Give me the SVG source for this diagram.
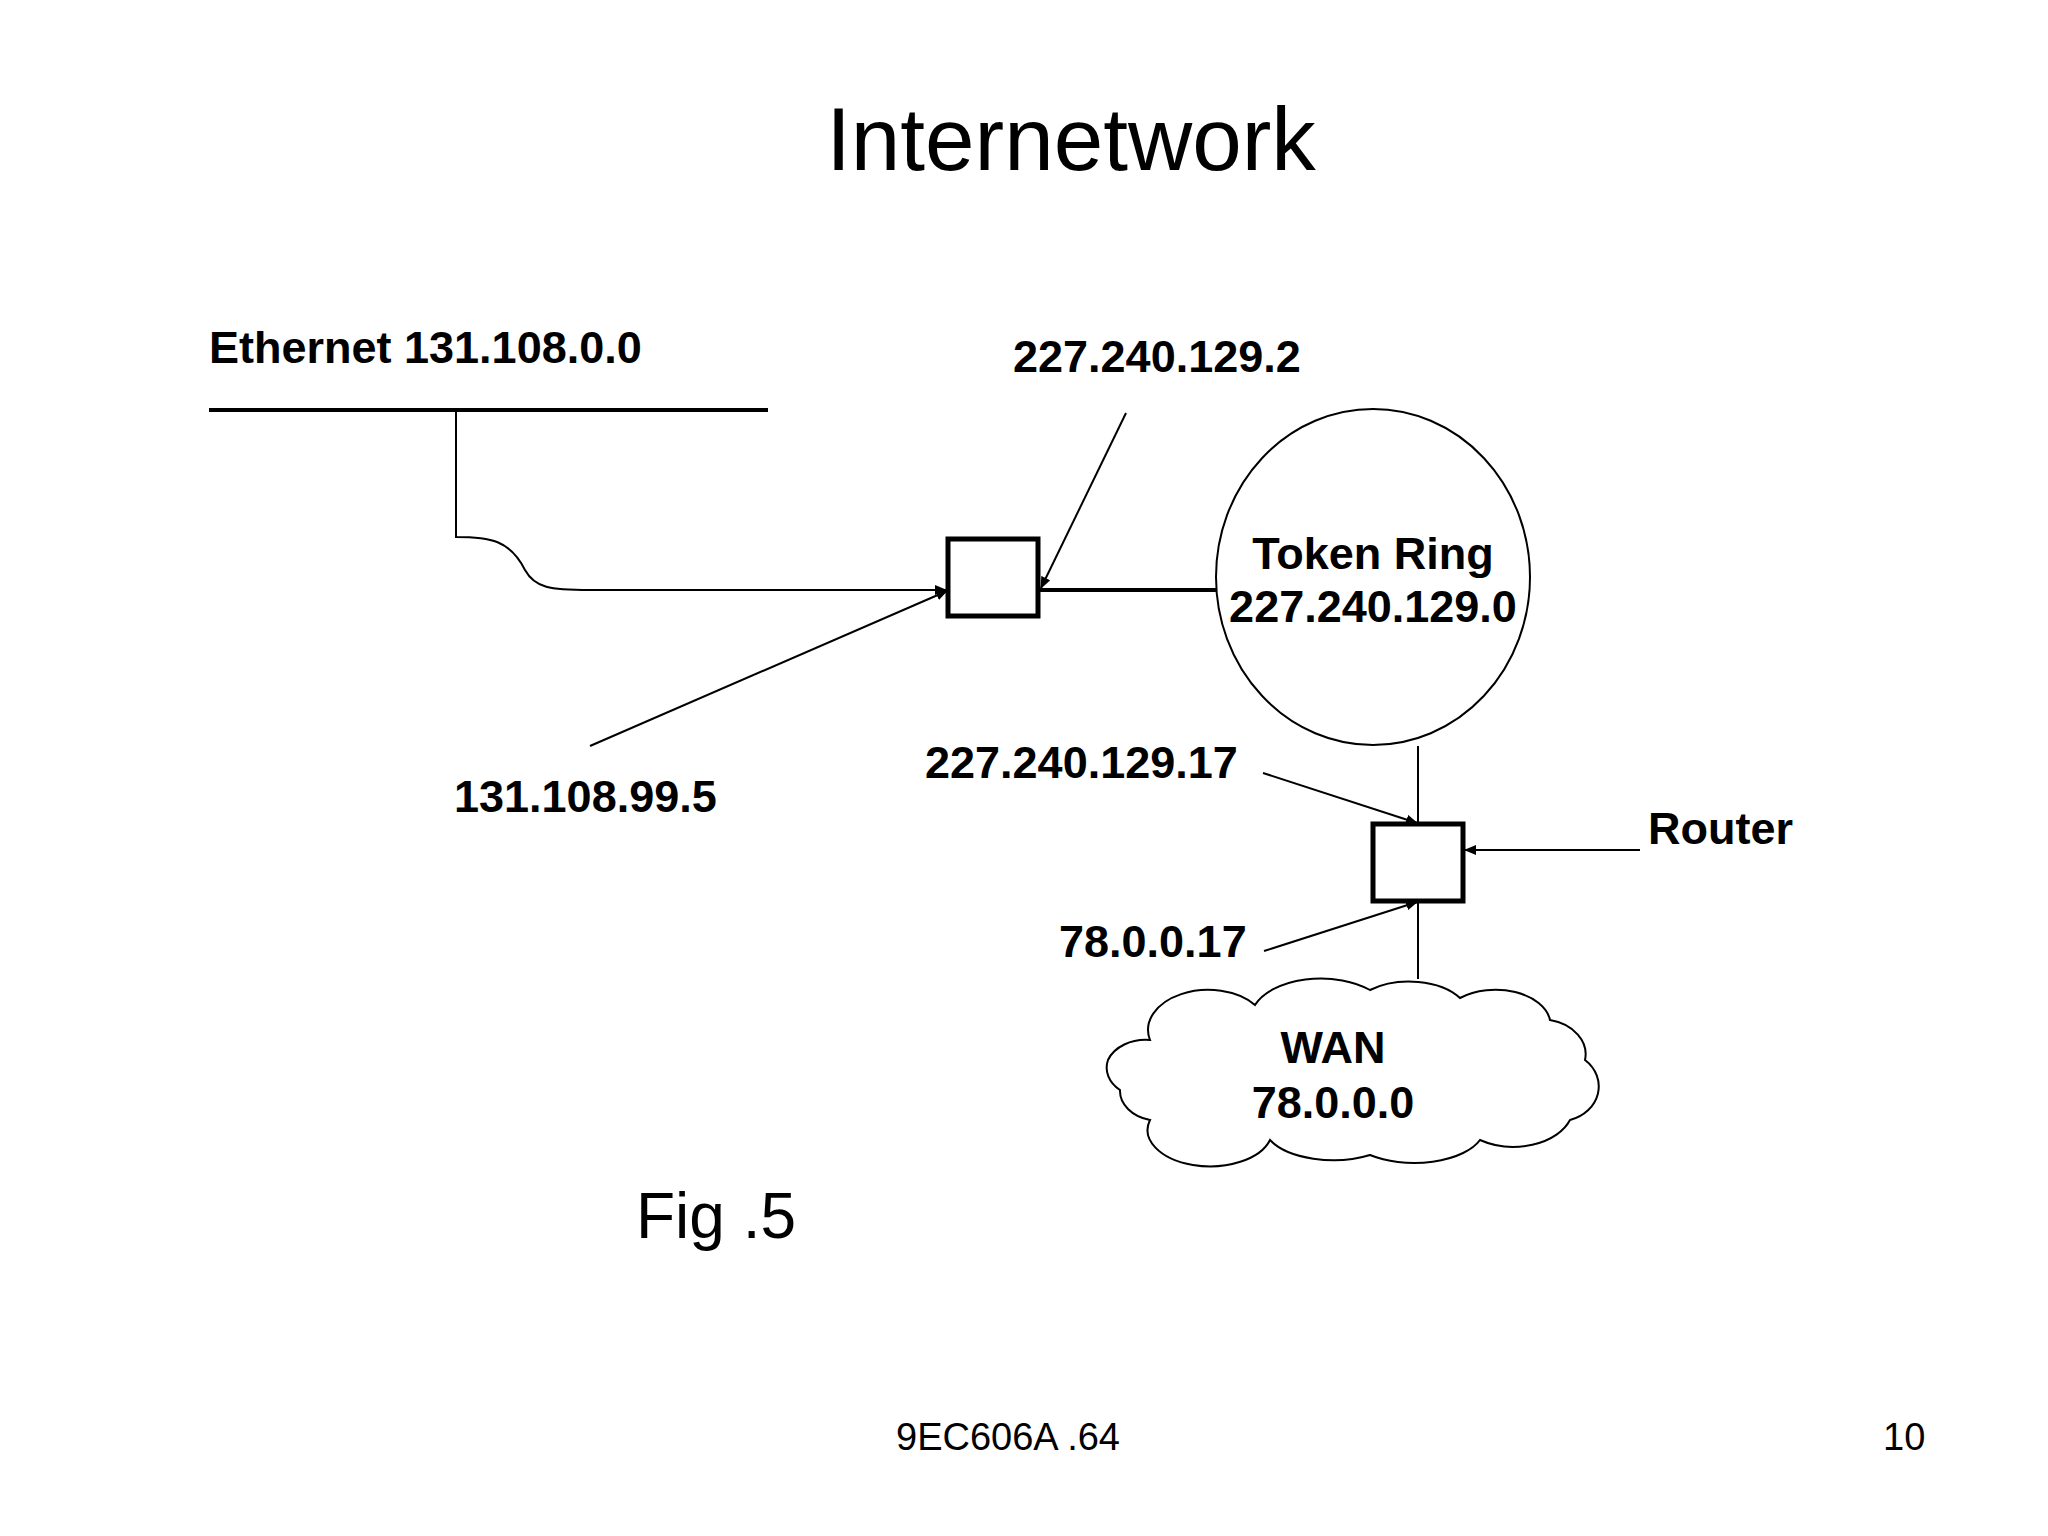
<svg xmlns="http://www.w3.org/2000/svg" width="2048" height="1536" viewBox="0 0 2048 1536">
<style>
.b{font-family:"Liberation Sans",Arial,sans-serif;font-weight:bold;font-size:45px;fill:#000}
.r{font-family:"Liberation Sans",Arial,sans-serif;fill:#000}
.l{fill:none;stroke:#000;stroke-width:2}
</style>
<defs><marker id="a" markerWidth="12" markerHeight="10" refX="11" refY="5" orient="auto" markerUnits="userSpaceOnUse"><path d="M0,0L12,5L0,10z" fill="#000"/></marker></defs>
<rect width="2048" height="1536" fill="#fff"/>
<text class="r" x="1071" y="170" font-size="89" text-anchor="middle">Internetwork</text>
<g id="ethernet"><text class="b" x="209" y="363">Ethernet 131.108.0.0</text><line x1="209" y1="410" x2="768" y2="410" stroke="#000" stroke-width="4"/></g>
<g id="gateway"><rect x="948" y="539" width="90" height="77" fill="#fff" stroke="#000" stroke-width="5"/></g>
<g id="tokenring"><ellipse cx="1373" cy="577" rx="157" ry="168" fill="#fff" stroke="#000" stroke-width="2"/><text class="b" x="1373" y="569" text-anchor="middle">Token Ring</text><text class="b" x="1373" y="622" text-anchor="middle">227.240.129.0</text></g>
<g id="router"><rect x="1373" y="824" width="90" height="77" fill="#fff" stroke="#000" stroke-width="5"/></g>
<g id="wan"><path d="M1150,1040 A60,40 0 0 1 1255,1005 A70,40 0 0 1 1370,990 A60,35 0 0 1 1460,998 A55,35 0 0 1 1550,1020 A45,35 0 0 1 1585,1060 A40,35 0 0 1 1570,1120 A60,40 0 0 1 1480,1140 A70,35 0 0 1 1370,1155 A70,35 0 0 1 1270,1140 A60,35 0 0 1 1150,1120 A40,30 0 0 1 1120,1090 A40,30 0 0 1 1108,1060 A40,30 0 0 1 1150,1040 Z" fill="#fff" stroke="#000" stroke-width="2"/><text class="b" x="1333" y="1063" text-anchor="middle">WAN</text><text class="b" x="1333" y="1118" text-anchor="middle">78.0.0.0</text></g>
<g id="labels">
<text class="b" x="1013" y="372">227.240.129.2</text>
<text class="b" x="454" y="812">131.108.99.5</text>
<text class="b" x="925" y="778">227.240.129.17</text>
<text class="b" x="1648" y="844">Router</text>
<text class="b" x="1059" y="957">78.0.0.17</text>
</g>
<g id="connectors">
<path class="l" d="M456,410V537C490,537 510,540 525,570C535,588 550,590 590,590H946" marker-end="url(#a)"/>
<line x1="1038" y1="590" x2="1217" y2="590" stroke="#000" stroke-width="4"/>
<line class="l" x1="1126" y1="413" x2="1041" y2="588" marker-end="url(#a)"/>
<line class="l" x1="590" y1="746" x2="947" y2="591" marker-end="url(#a)"/>
<line class="l" x1="1418" y1="746" x2="1418" y2="824"/>
<line class="l" x1="1418" y1="901" x2="1418" y2="979"/>
<line class="l" x1="1263" y1="773" x2="1417" y2="823" marker-end="url(#a)"/>
<line class="l" x1="1640" y1="850" x2="1465" y2="850" marker-end="url(#a)"/>
<line class="l" x1="1264" y1="951" x2="1417" y2="902" marker-end="url(#a)"/>
</g>
<text class="r" x="636" y="1238" font-size="64">Fig .5</text>
<text class="r" x="896" y="1450" font-size="38">9EC606A .64</text>
<text class="r" x="1883" y="1450" font-size="38">10</text>
</svg>
